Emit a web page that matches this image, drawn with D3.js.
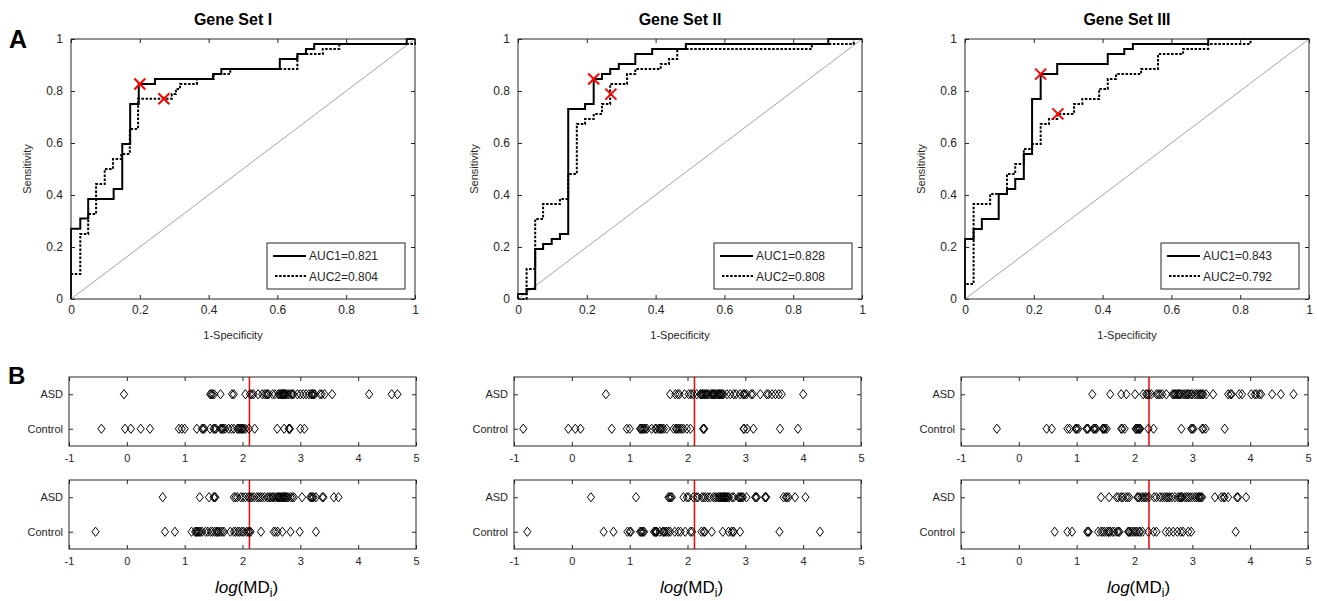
<!DOCTYPE html>
<html>
<head>
<meta charset="utf-8">
<script src="https://cdn.jsdelivr.net/npm/d3@7"></script>
<style>
body { margin: 0; background: #fff; }
svg { font-family: "Liberation Sans", Arial, sans-serif; }
</style>
</head>
<body>
<svg width="1317" height="601"></svg>
<script>
// ---- data ----
const titles = ['Gene Set I', 'Gene Set II', 'Gene Set III'];
const auc1 = ['0.821', '0.828', '0.843'];
const auc2 = ['0.804', '0.808', '0.792'];
const rocTicks = [0, 0.2, 0.4, 0.6, 0.8, 1];
const stripTicks = [-1, 0, 1, 2, 3, 4, 5];
const groups = ['ASD', 'Control'];

// ROC step vertices [1-specificity, sensitivity]
const rocSolidI = [[0,0],[0,0.27],[0.027,0.31],[0.05,0.385],[0.124,0.423],[0.149,0.596],[0.172,0.75],[0.197,0.827],[0.244,0.846],[0.413,0.865],[0.437,0.885],[0.607,0.923],[0.658,0.942],[0.683,0.962],[0.707,0.981],[0.976,1],[1,1]];
const rocDotI = [[0,0],[0,0.096],[0.027,0.25],[0.05,0.327],[0.073,0.442],[0.098,0.5],[0.122,0.538],[0.146,0.558],[0.171,0.654],[0.195,0.77],[0.293,0.788],[0.305,0.808],[0.317,0.827],[0.366,0.846],[0.415,0.865],[0.463,0.885],[0.658,0.942],[0.732,0.962],[0.78,0.981],[1,1]];
const rocSolidII = [[0,0],[0,0.019],[0.025,0.038],[0.05,0.192],[0.073,0.212],[0.098,0.231],[0.122,0.25],[0.146,0.731],[0.195,0.75],[0.22,0.846],[0.244,0.865],[0.268,0.885],[0.293,0.904],[0.341,0.942],[0.39,0.962],[0.488,0.981],[0.902,1],[1,1]];
const rocDotII = [[0,0],[0.025,0.115],[0.05,0.308],[0.073,0.365],[0.122,0.385],[0.146,0.481],[0.171,0.673],[0.195,0.692],[0.22,0.712],[0.244,0.75],[0.268,0.827],[0.317,0.865],[0.341,0.885],[0.415,0.904],[0.439,0.923],[0.463,0.962],[0.854,0.981],[0.976,1],[1,1]];
const rocSolidIII = [[0,0],[0,0.231],[0.025,0.269],[0.049,0.308],[0.098,0.404],[0.122,0.423],[0.146,0.462],[0.171,0.558],[0.195,0.769],[0.22,0.865],[0.268,0.904],[0.415,0.942],[0.463,0.962],[0.488,0.981],[0.707,1],[1,1]];
const rocDotIII = [[0,0],[0,0.058],[0.025,0.365],[0.073,0.404],[0.122,0.481],[0.146,0.519],[0.171,0.577],[0.195,0.596],[0.22,0.673],[0.244,0.692],[0.268,0.712],[0.317,0.75],[0.341,0.769],[0.39,0.808],[0.415,0.846],[0.439,0.865],[0.512,0.885],[0.561,0.942],[0.634,0.962],[0.707,0.981],[0.83,1],[1,1]];

// cut-off points (red crosses)
const cut1 = [[0.2, 0.827], [0.22, 0.846], [0.22, 0.865]];
const cut2 = [[0.27, 0.77], [0.27, 0.788], [0.27, 0.712]];

// log(MD_i) per subject, row 1
const asdI1 = [-0.05,1.44,1.46,1.48,1.51,1.62,1.82,1.85,2.05,2.13,2.16,2.19,2.27,2.34,2.38,2.41,2.43,2.45,2.52,2.56,2.62,2.64,2.66,2.68,2.69,2.70,2.71,2.72,2.73,2.74,2.77,2.80,2.84,2.86,2.88,2.95,3.00,3.05,3.10,3.15,3.19,3.20,3.21,3.23,3.25,3.34,3.37,3.42,3.55,4.19,4.58,4.68];
const ctlI1 = [-0.44,-0.03,0.07,0.24,0.40,0.90,0.95,1.00,1.21,1.30,1.32,1.34,1.44,1.50,1.52,1.54,1.62,1.64,1.65,1.67,1.70,1.76,1.81,1.85,1.91,1.93,1.95,1.97,1.99,2.00,2.02,2.05,2.11,2.21,2.60,2.72,2.80,2.81,2.82,3.00,3.07];
const asdII1 = [0.59,1.70,1.79,1.83,1.86,1.95,2.02,2.06,2.10,2.16,2.22,2.23,2.25,2.26,2.28,2.30,2.32,2.34,2.36,2.40,2.42,2.44,2.45,2.46,2.48,2.51,2.53,2.55,2.55,2.57,2.59,2.60,2.62,2.68,2.74,2.80,2.84,2.91,2.96,2.98,2.99,3.02,3.10,3.13,3.26,3.37,3.40,3.46,3.52,3.58,3.63,4.00];
const ctlII1 = [-0.84,-0.06,0.06,0.15,0.69,0.95,1.00,1.18,1.19,1.21,1.23,1.25,1.27,1.30,1.38,1.44,1.46,1.50,1.52,1.54,1.56,1.59,1.64,1.76,1.80,1.81,1.84,1.87,1.90,1.93,1.99,2.05,2.27,2.28,2.29,2.97,2.98,3.03,3.14,3.60,3.91];
const asdIII1 = [1.27,1.58,1.77,1.86,2.01,2.15,2.20,2.22,2.25,2.29,2.38,2.41,2.44,2.48,2.55,2.66,2.68,2.70,2.72,2.75,2.76,2.78,2.80,2.84,2.87,2.90,2.92,2.94,2.98,3.00,3.04,3.07,3.10,3.13,3.15,3.17,3.19,3.24,3.36,3.62,3.66,3.68,3.81,3.86,4.02,4.08,4.11,4.16,4.19,4.38,4.53,4.75];
const ctlIII1 = [-0.38,0.48,0.57,0.84,0.88,0.98,1.00,1.00,1.03,1.17,1.18,1.20,1.29,1.30,1.32,1.34,1.45,1.46,1.47,1.49,1.52,1.77,1.79,1.83,2.02,2.03,2.05,2.06,2.08,2.09,2.10,2.24,2.33,2.81,2.98,3.00,3.02,3.17,3.19,3.23,3.56];

// row 2
const asdI2 = [0.62,1.26,1.42,1.50,1.52,1.53,1.85,1.88,1.91,1.97,2.01,2.05,2.10,2.13,2.16,2.20,2.25,2.28,2.31,2.34,2.38,2.43,2.46,2.49,2.52,2.54,2.57,2.60,2.62,2.63,2.65,2.67,2.69,2.71,2.72,2.73,2.75,2.77,2.79,2.83,2.86,2.89,3.03,3.17,3.19,3.21,3.23,3.27,3.38,3.40,3.58,3.66];
const ctlI2 = [-0.54,0.66,0.83,1.12,1.18,1.20,1.21,1.23,1.25,1.27,1.30,1.36,1.40,1.45,1.48,1.52,1.55,1.57,1.59,1.62,1.65,1.68,1.79,1.85,1.88,1.92,1.95,1.99,2.02,2.07,2.10,2.12,2.14,2.32,2.54,2.57,2.61,2.69,2.83,2.99,3.27];
const asdII2 = [0.33,1.11,1.67,1.69,1.71,1.73,1.93,1.99,2.02,2.10,2.15,2.18,2.25,2.28,2.31,2.35,2.39,2.45,2.48,2.51,2.54,2.56,2.57,2.59,2.61,2.62,2.64,2.65,2.66,2.68,2.70,2.72,2.77,2.80,2.88,2.90,2.92,2.94,2.96,3.02,3.17,3.18,3.20,3.34,3.35,3.36,3.66,3.70,3.72,3.75,3.86,4.04];
const ctlII2 = [-0.77,0.55,0.72,0.96,1.00,1.02,1.18,1.20,1.21,1.23,1.25,1.42,1.44,1.45,1.46,1.47,1.52,1.57,1.59,1.61,1.64,1.67,1.70,1.78,1.84,1.88,1.96,2.05,2.08,2.24,2.28,2.30,2.42,2.61,2.71,2.76,2.79,2.80,2.91,3.59,4.29];
const asdIII2 = [1.42,1.56,1.69,1.72,1.77,1.80,1.85,1.88,1.91,2.05,2.06,2.08,2.12,2.15,2.18,2.21,2.25,2.34,2.38,2.44,2.48,2.52,2.55,2.58,2.61,2.65,2.70,2.75,2.78,2.80,2.81,2.83,2.87,2.90,2.93,2.96,3.00,3.04,3.07,3.10,3.12,3.13,3.15,3.17,3.39,3.50,3.54,3.56,3.62,3.77,3.79,3.93];
const ctlIII2 = [0.62,0.84,0.92,1.18,1.20,1.21,1.37,1.42,1.45,1.48,1.52,1.55,1.56,1.58,1.62,1.65,1.70,1.72,1.74,1.89,1.90,1.92,1.95,1.98,2.01,2.04,2.08,2.10,2.14,2.24,2.33,2.38,2.54,2.60,2.67,2.74,2.80,2.84,2.93,2.98,3.75];

const cutRow1 = [2.12, 2.12, 2.25];
const cutRow2 = [2.12, 2.12, 2.25];

const rocSolid = [rocSolidI, rocSolidII, rocSolidIII];
const rocDot = [rocDotI, rocDotII, rocDotIII];
const stripRows = [
  { asd: [asdI1, asdII1, asdIII1], ctl: [ctlI1, ctlII1, ctlIII1], cut: cutRow1 },
  { asd: [asdI2, asdII2, asdIII2], ctl: [ctlI2, ctlII2, ctlIII2], cut: cutRow2 }
];

// ---- layout ----
const ink = '#262626';
const rocLeft = [71, 518, 965];
const rocTop = 39;
const rocW = 344;
const rocH = 260;
const stripLeft = [69, 514, 961];
const stripTops = [377, 480];
const stripW = 347;
const stripH = 69;

const svg = d3.select('svg');

const styleAxis = (g, size) => {
  g.select('.domain').remove();
  g.selectAll('.tick line').attr('stroke', ink);
  g.selectAll('.tick text').attr('fill', ink).style('font-size', size + 'px');
};

svg.append('text').attr('x', 9).attr('y', 48)
  .style('font-size', '25px').style('font-weight', 'bold').text('A');
svg.append('text').attr('x', 8).attr('y', 384)
  .style('font-size', '24px').style('font-weight', 'bold').text('B');

titles.forEach((title, i) => {
  const g = svg.append('g').attr('transform', `translate(${rocLeft[i]},${rocTop})`);
  const x = d3.scaleLinear().domain([0, 1]).range([0, rocW]);
  const y = d3.scaleLinear().domain([0, 1]).range([rocH, 0]);

  g.append('line')
    .attr('x1', x(0)).attr('y1', y(0)).attr('x2', x(1)).attr('y2', y(1))
    .attr('stroke', '#8c8c8c').attr('stroke-width', 0.8);

  const line = d3.line().x(d => x(d[0])).y(d => y(d[1])).curve(d3.curveStepAfter);
  g.append('path').datum(rocDot[i]).attr('d', line)
    .attr('fill', 'none').attr('stroke', '#000').attr('stroke-width', 2)
    .attr('stroke-dasharray', '2.5,1.6');
  g.append('path').datum(rocSolid[i]).attr('d', line)
    .attr('fill', 'none').attr('stroke', '#000').attr('stroke-width', 2);

  [cut1[i], cut2[i]].forEach(p => {
    const cx = x(p[0]), cy = y(p[1]), r = 5.5;
    g.append('path')
      .attr('d', `M${cx - r},${cy - r}L${cx + r},${cy + r}M${cx - r},${cy + r}L${cx + r},${cy - r}`)
      .attr('stroke', '#ff0000').attr('stroke-width', 2);
  });

  g.append('g').attr('transform', `translate(0,${rocH})`)
    .call(d3.axisBottom(x).tickValues(rocTicks).tickFormat(d => String(d)).tickSize(-4).tickPadding(6))
    .call(a => styleAxis(a, 12));
  g.append('g')
    .call(d3.axisTop(x).tickValues(rocTicks).tickFormat('').tickSize(-4))
    .call(a => styleAxis(a, 12));
  g.append('g')
    .call(d3.axisLeft(y).tickValues(rocTicks).tickFormat(d => String(d)).tickSize(-4).tickPadding(8))
    .call(a => styleAxis(a, 12));
  g.append('g').attr('transform', `translate(${rocW},0)`)
    .call(d3.axisRight(y).tickValues(rocTicks).tickFormat('').tickSize(-4))
    .call(a => styleAxis(a, 12));

  g.append('rect').attr('width', rocW).attr('height', rocH)
    .attr('fill', 'none').attr('stroke', ink).attr('stroke-width', 1);

  // legend
  const lg = g.append('g').attr('transform', 'translate(196,204)');
  lg.append('rect').attr('width', 138).attr('height', 46)
    .attr('fill', '#fff').attr('stroke', ink).attr('stroke-width', 1);
  lg.append('line').attr('x1', 6).attr('x2', 39).attr('y1', 13).attr('y2', 13)
    .attr('stroke', '#000').attr('stroke-width', 2);
  lg.append('line').attr('x1', 8).attr('x2', 39).attr('y1', 33).attr('y2', 33)
    .attr('stroke', '#000').attr('stroke-width', 2).attr('stroke-dasharray', '2.5,1.6');
  lg.append('text').attr('x', 42).attr('y', 17).style('font-size', '12px').attr('fill', ink)
    .text('AUC1=' + auc1[i]);
  lg.append('text').attr('x', 42).attr('y', 38).style('font-size', '12px').attr('fill', ink)
    .text('AUC2=' + auc2[i]);

  g.append('text').attr('x', rocW / 2 - 10).attr('y', -14).attr('text-anchor', 'middle')
    .style('font-size', '16px').style('font-weight', 'bold').text(title);
  g.append('text').attr('transform', `translate(-40,${rocH / 2}) rotate(-90)`)
    .attr('text-anchor', 'middle').style('font-size', '11px').attr('fill', ink).text('Sensitivity');
  g.append('text').attr('x', rocW / 2 - 10).attr('y', rocH + 40).attr('text-anchor', 'middle')
    .style('font-size', '11px').attr('fill', ink).text('1-Specificity');
});

const diamond = 'M0,-4.6L3.6,0L0,4.6L-3.6,0Z';

stripRows.forEach((row, r) => {
  titles.forEach((t, i) => {
    const g = svg.append('g').attr('transform', `translate(${stripLeft[i]},${stripTops[r]})`);
    const x = d3.scaleLinear().domain([-1, 5]).range([0, stripW]);
    const y = d3.scaleLinear().domain([0.5, 2.5]).range([stripH, 0]);
    const yCat = { ASD: 2, Control: 1 };

    g.append('line').attr('x1', x(row.cut[i])).attr('x2', x(row.cut[i]))
      .attr('y1', 0).attr('y2', stripH).attr('stroke', '#ff0000').attr('stroke-width', 1.5);

    [['ASD', row.asd[i]], ['Control', row.ctl[i]]].forEach(([grp, vals]) => {
      g.selectAll(null).data(vals).enter().append('path')
        .attr('d', diamond)
        .attr('transform', d => `translate(${x(d)},${y(yCat[grp])})`)
        .attr('fill', 'none').attr('stroke', '#000').attr('stroke-width', 1);
    });

    g.append('g').attr('transform', `translate(0,${stripH})`)
      .call(d3.axisBottom(x).tickValues(stripTicks).tickFormat(d => String(d)).tickSize(-4).tickPadding(8))
      .call(a => styleAxis(a, 11));
    g.append('g')
      .call(d3.axisTop(x).tickValues(stripTicks).tickFormat('').tickSize(-4))
      .call(a => styleAxis(a, 11));

    const ys = d3.scalePoint().domain(groups).range([y(2), y(1)]);
    g.append('g')
      .call(d3.axisLeft(ys).tickSize(-4).tickPadding(6))
      .call(a => styleAxis(a, 11));
    g.append('g').attr('transform', `translate(${stripW},0)`)
      .call(d3.axisRight(ys).tickFormat('').tickSize(-4))
      .call(a => styleAxis(a, 11));

    g.append('rect').attr('width', stripW).attr('height', stripH)
      .attr('fill', 'none').attr('stroke', ink).attr('stroke-width', 1);

    if (r === 1) {
      const lbl = g.append('text').attr('x', stripW / 2 + 4).attr('y', stripH + 44)
        .attr('text-anchor', 'middle').style('font-size', '17px').attr('fill', '#000');
      lbl.append('tspan').style('font-style', 'italic').text('log');
      lbl.append('tspan').text('(MD');
      lbl.append('tspan').attr('dy', 4).style('font-size', '12px').text('i');
      lbl.append('tspan').attr('dy', -4).text(')');
    }
  });
});
</script>
</body>
</html>
